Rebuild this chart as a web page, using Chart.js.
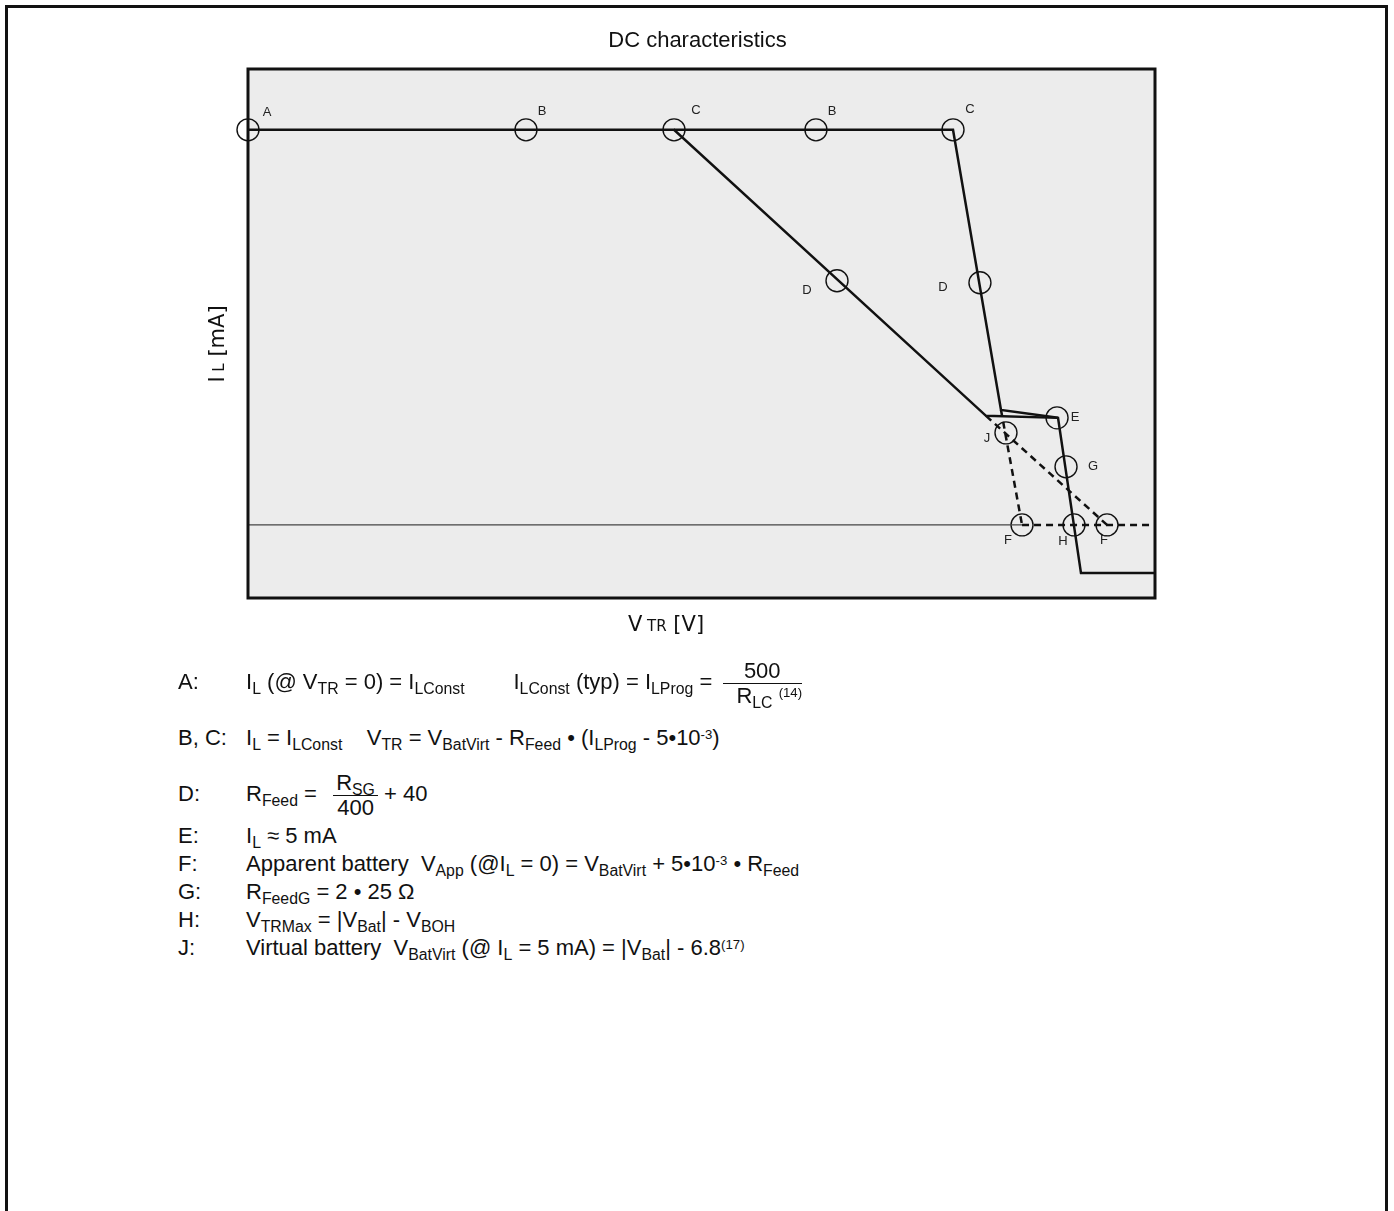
<!DOCTYPE html>
<html lang="en">

<head>
    <meta charset="UTF-8">
    <title>DC characteristics</title>
    <script src="https://cdn.jsdelivr.net/npm/chart.js"></script>
    <style>
        body {
            margin: 0;
            width: 1394px;
            height: 1211px;
            background: #fff;
            position: relative;
            overflow: hidden;
            font-family: "Liberation Sans", Arial, sans-serif;
        }

        #frame {
            position: absolute;
            left: 5px;
            top: 5px;
            width: 1377px;
            height: 1300px;
            border: 3px solid #111;
        }

        #chartBox {
            position: absolute;
            left: 0;
            top: 0;
            width: 1394px;
            height: 660px;
        }

        .row {
            position: absolute;
            left: 178px;
            font-size: 22px;
            color: #111;
            white-space: nowrap;
            line-height: 22px;
        }

        .lbl {
            display: inline-block;
            width: 68px;
        }

        sub {
            font-size: 72%;
            vertical-align: -0.3em;
            line-height: 0;
        }

        sup {
            font-size: 60%;
            vertical-align: 0.45em;
            line-height: 0;
        }

        .frac {
            display: inline-flex;
            flex-direction: column;
            align-items: center;
            vertical-align: middle;
            margin-left: 4px;
            line-height: 24px;
        }

        .frac .num {
            border-bottom: 1.5px solid #111;
            padding: 0 3px 0 3px;
        }

        .frac .den {
            padding-left: 14px;
        }

        .frac.d .den {
            padding-left: 0;
        }
    </style>
</head>

<body>
    <div id="frame"></div>
    <div id="chartBox"><canvas id="dcChart" width="1394" height="660"></canvas></div>

    <!-- Formeln unter dem Diagramm -->
    <div class="row" style="top:659px"><span class="lbl">A:</span>I<sub>L</sub> (@ V<sub>TR</sub> = 0) = I<sub>LConst</sub>&nbsp;&nbsp;&nbsp;&nbsp;&nbsp;&nbsp;&nbsp;&nbsp;I<sub>LConst</sub> (typ) = I<sub>LProg</sub> = <span class="frac"><span class="num">&nbsp;&nbsp;&nbsp;500&nbsp;&nbsp;&nbsp;</span><span class="den">R<sub>LC</sub> <sup>(14)</sup></span></span></div>
    <div class="row" style="top:727px"><span class="lbl">B, C:</span>I<sub>L</sub> = I<sub>LConst</sub>&nbsp;&nbsp;&nbsp;&nbsp;V<sub>TR</sub> = V<sub>BatVirt</sub> - R<sub>Feed</sub> • (I<sub>LProg</sub> - 5•10<sup>-3</sup>)</div>
    <div class="row" style="top:771px"><span class="lbl">D:</span>R<sub>Feed</sub> =&nbsp; <span class="frac d"><span class="num">R<sub>SG</sub></span><span class="den">400</span></span> + 40</div>
    <div class="row" style="top:825px"><span class="lbl">E:</span>I<sub>L</sub> ≈ 5 mA</div>
    <div class="row" style="top:853px"><span class="lbl">F:</span>Apparent battery&nbsp; V<sub>App</sub> (@I<sub>L</sub> = 0) = V<sub>BatVirt</sub> + 5•10<sup>-3</sup> • R<sub>Feed</sub></div>
    <div class="row" style="top:881px"><span class="lbl">G:</span>R<sub>FeedG</sub> = 2 • 25 Ω</div>
    <div class="row" style="top:909px"><span class="lbl">H:</span>V<sub>TRMax</sub> = |V<sub>Bat</sub>| - V<sub>BOH</sub></div>
    <div class="row" style="top:937px"><span class="lbl">J:</span>Virtual battery&nbsp; V<sub>BatVirt</sub> (@ I<sub>L</sub> = 5 mA) = |V<sub>Bat</sub>| - 6.8<sup>(17)</sup></div>

    <script>
        // Kennlinien (V_TR in % der Achse, I_L in % von I_LConst)
        const vtrMain = [0, 46.97, 81.37, 89.31, 91.84, 100];
        const ilMain = [100, 100, 27.6, 27.1, -12.2, -12.2];
        const vtrSteep = [46.97, 77.73, 83.02, 89.31];
        const ilSteep = [100, 100, 29.1, 27.1];
        const vtrDashMain = [81.37, 94.71];
        const ilDashMain = [27.6, 0];
        const vtrDashSteep = [83.02, 85.34];
        const ilDashSteep = [29.1, 0];
        const vtrZeroDash = [85.34, 100];
        const ilZeroDash = [0, 0];
        const vtrZero = [0, 85.34];
        const ilZero = [0, 0];

        // Markierungspunkte
        const markerLabels = ['A', 'B', 'C', 'B', 'C', 'D', 'D', 'E', 'J', 'G', 'F', 'H', 'F'];
        const markerVtr = [0, 30.65, 46.97, 62.62, 77.73, 64.94, 80.7, 89.2, 83.57, 90.19, 85.34, 91.07, 94.71];
        const markerIl = [100, 100, 100, 100, 100, 61.8, 61.3, 27.1, 23.3, 14.7, 0, 0, 0];

        const xTitle = ['V', ' TR', ' [V]'];
        const yTitle = ['I', ' L', ' [mA]'];
        const chartTitle = 'DC characteristics';

        const toPts = (xs, ys) => xs.map((x, i) => ({ x: x, y: ys[i] }));

        // Versatz der Buchstaben zum Kreis (px)
        const labelOffsets = [[19, -17], [16, -18], [22, -19], [16, -18], [17, -20], [-30, 10], [-37, 5],
            [18, 0], [-19, 6], [27, 0], [-14, 16], [-11, 17], [-3, 16]];

        const decorPlugin = {
            id: 'decor',
            beforeDatasetsDraw(chart) {
                const { ctx, chartArea: a } = chart;
                ctx.save();
                ctx.fillStyle = '#ececec';
                ctx.fillRect(a.left, a.top, a.right - a.left, a.bottom - a.top);
                ctx.restore();
            },
            afterDatasetsDraw(chart) {
                const { ctx, chartArea: a } = chart;
                ctx.save();
                ctx.strokeStyle = '#111';
                ctx.lineWidth = 3;
                ctx.strokeRect(a.left, a.top, a.right - a.left, a.bottom - a.top);

                // Buchstaben an den Kreisen
                const meta = chart.getDatasetMeta(6);
                ctx.fillStyle = '#222';
                ctx.font = '13px "Liberation Sans", Arial, sans-serif';
                ctx.textAlign = 'center';
                ctx.textBaseline = 'middle';
                meta.data.forEach((p, i) => {
                    const off = labelOffsets[i];
                    ctx.fillText(markerLabels[i], p.x + off[0], p.y + off[1]);
                });

                // Titel
                ctx.font = '22px "Liberation Sans", Arial, sans-serif';
                ctx.fillStyle = '#111';
                ctx.textBaseline = 'alphabetic';
                ctx.fillText(chartTitle, (a.left + a.right) / 2 - 4, 47);

                // Achsentitel mit Index
                const big = '21px "DejaVu Sans", sans-serif';
                const small = '15px "DejaVu Sans", sans-serif';
                const parts = (t) => t.map((s, i) => ({ s: s, f: i === 1 ? small : big }));
                const width = (ps) => ps.reduce((w, p) => { ctx.font = p.f; return w + ctx.measureText(p.s).width; }, 0);

                ctx.textAlign = 'left';
                let xp = parts(xTitle);
                let x = 666 - width(xp) / 2;
                xp.forEach(p => { ctx.font = p.f; ctx.fillText(p.s, x, 631); x += ctx.measureText(p.s).width; });

                ctx.translate(224, 344);
                ctx.rotate(-Math.PI / 2);
                let yp = parts(yTitle);
                let y = -width(yp) / 2;
                yp.forEach(p => { ctx.font = p.f; ctx.fillText(p.s, y, 0); y += ctx.measureText(p.s).width; });
                ctx.restore();
            }
        };

        const solid = (data) => ({
            data: data, borderColor: '#111', borderWidth: 2.5, pointRadius: 0, showLine: true, fill: false
        });
        const dashed = (data) => ({
            data: data, borderColor: '#111', borderWidth: 2.5, borderDash: [7, 5], pointRadius: 0, showLine: true, fill: false
        });

        new Chart(document.getElementById('dcChart'), {
            type: 'scatter',
            data: {
                datasets: [
                    solid(toPts(vtrMain, ilMain)),
                    solid(toPts(vtrSteep, ilSteep)),
                    dashed(toPts(vtrDashMain, ilDashMain)),
                    dashed(toPts(vtrDashSteep, ilDashSteep)),
                    dashed(toPts(vtrZeroDash, ilZeroDash)),
                    { data: toPts(vtrZero, ilZero), borderColor: '#444', borderWidth: 1.3, pointRadius: 0, showLine: true },
                    {
                        data: toPts(markerVtr, markerIl), showLine: false, clip: false,
                        pointStyle: 'circle', pointRadius: 11, borderColor: '#111', borderWidth: 1.4,
                        backgroundColor: 'rgba(0,0,0,0)'
                    }
                ]
            },
            options: {
                responsive: false,
                devicePixelRatio: 1,
                animation: false,
                layout: { padding: { left: 248, top: 69, right: 239, bottom: 62 } },
                plugins: { legend: { display: false }, tooltip: { enabled: false } },
                scales: {
                    x: { type: 'linear', min: 0, max: 100, display: false },
                    y: { type: 'linear', min: -18.5, max: 115.4, display: false }
                }
            },
            plugins: [decorPlugin]
        });
    </script>
</body>

</html>
